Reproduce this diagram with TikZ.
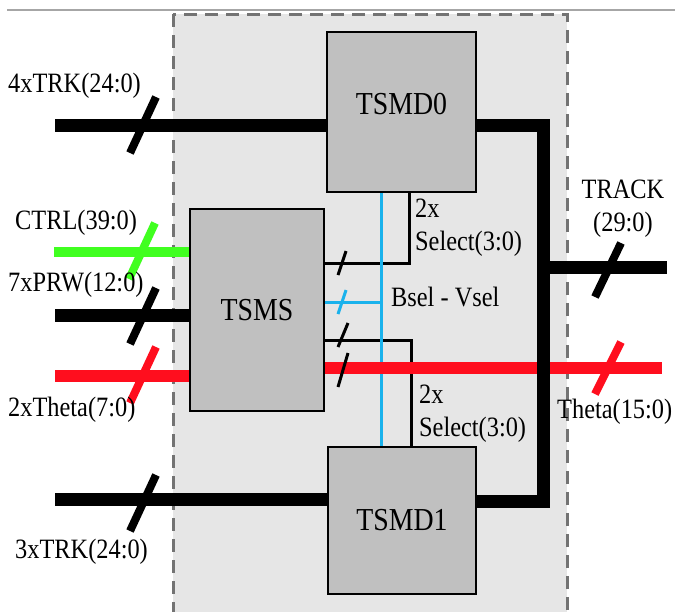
\documentclass[tikz,border=0pt]{standalone}
\usepackage{fontspec}
\setmainfont{Liberation Serif}
\newfontfamily\narrowserif[FakeStretch=0.87]{Liberation Serif}
\usetikzlibrary{positioning}

\definecolor{busgreen}{RGB}{64,255,32}
\definecolor{busred}{RGB}{255,14,30}
\definecolor{buscyan}{RGB}{26,178,236}
\definecolor{blockgray}{RGB}{192,192,192}
\definecolor{areagray}{RGB}{230,230,230}

\newcommand{\labelsize}{\narrowserif\fontsize{28}{33}\selectfont}
\newcommand{\blocksize}{\narrowserif\fontsize{32}{36}\selectfont}

\begin{document}
\begin{tikzpicture}[
			x=1pt, y=-1pt,
			block/.style={
				rectangle,
				draw=black,
				line width=2.5pt,
				fill=blockgray,
				inner sep=0pt,
				font=\blocksize
			},
			lab/.style={
				inner sep=0pt,
				align=left,
				font=\labelsize
			},
			bus/.style={line width=13pt},
			wire/.style={line width=3pt},
			slash/.style={line width=8pt},
			tick/.style={line width=3pt}
			]
			\useasboundingbox (0,0) rectangle (675,611);
			\clip (0,0) rectangle (675,611);
			\fill[white] (0,0) rectangle (675,611);
			\draw[black!35, line width=1.5pt] (7,10) -- (675,10);
			\draw[fill=areagray, draw=black!55, line width=3pt, dash pattern=on 13pt off 8pt] (173,14) rectangle (567,640);
			
			% blocks
			\node[block, minimum width=149pt, minimum height=160pt, text depth=16pt] (tsmd0) at (401.5,112) {TSMD0};
			\node[block, minimum width=134pt, minimum height=202pt] (tsms) at (257,310) {TSMS};
			\node[block, minimum width=148pt, minimum height=147pt] (tsmd1) at (402,520.5) {TSMD1};
			
			% free ends
			\coordinate (trk0) at (55,125);
			\coordinate (ctrl) at (54,252);
			\coordinate (prw) at (55,315);
			\coordinate (thin) at (55,376);
			\coordinate (trk1) at (55,499);
			\coordinate (merge) at (543,501);
			\coordinate (track) at (667,267);
			\coordinate (thout) at (662,368);
			\coordinate (selA) at (409,263);
			\coordinate (selB) at (411,340);
			\coordinate (bsel) at (381,302);
			
			% inputs
			\draw[bus] (trk0) -- (trk0 -| tsmd0.west);
			\draw[slash] (143,125) ++(13,-28) -- ++(-26,56);
			\draw[bus, busgreen, line width=10pt] (ctrl) -- (ctrl -| tsms.west);
			\draw[slash, busgreen] (142,251) ++(13,-28) -- ++(-26,56);
			\draw[bus] (prw) -- (prw -| tsms.west);
			\draw[slash] (143,316) ++(13,-28) -- ++(-26,56);
			\draw[bus, busred, line width=12pt] (thin) -- (thin -| tsms.west);
			\draw[slash, busred] (143,375) ++(13,-28) -- ++(-26,56);
			\draw[bus] (trk1) -- (trk1 -| tsmd1.west);
			\draw[slash] (143,503) ++(13,-28) -- ++(-26,56);
			
			% select lines
			\draw[wire] (tsms.east |- selA) -| (tsmd0.south -| selA);
			\draw[tick] (342,263) ++(4,-12) -- ++(-8,24);
			\draw[wire] (tsms.east |- selB) -| (tsmd1.north -| selB);
			\draw[tick] (343,335) ++(5,-12) -- ++(-10,24);
			\draw[wire, buscyan] (tsmd0.south -| bsel) -- (tsmd1.north -| bsel);
			\draw[wire, buscyan] (tsms.east |- bsel) -- (bsel);
			\draw[tick, buscyan] (342,302) ++(4,-12) -- ++(-8,24);
			
			% outputs
			\draw[bus, busred, line width=12pt] (tsms.east |- thout) -- (thout);
			\draw[tick] (343,370) ++(5,-17) -- ++(-10,34);
			\draw[slash, busred] (608,368) ++(13,-26) -- ++(-26,52);
			\draw[bus] ([yshift=-13pt]tsmd0.east) -| (merge) -- (merge -| tsmd1.east);
			\draw[bus] (merge |- track) -- (track);
			\draw[slash] (608,270) ++(13,-27) -- ++(-26,54);
			
			% labels
			\node[lab, anchor=west] (trk0lab) at (8,86) {4xTRK(24:0)};
			\node[lab, anchor=west] (ctrllab) at (15,223) {CTRL(39:0)};
			\node[lab, anchor=west] (prwlab) at (8,285) {7xPRW(12:0)};
			\node[lab, anchor=west] (thinlab) at (8,410) {2xTheta(7:0)};
			\node[lab, anchor=west] (trk1lab) at (15,552) {3xTRK(24:0)};
			\node[lab, align=center] (tracklab) at (623,209) {TRACK\\(29:0)};
			\node[lab, anchor=west] (thoutlab) at (557,412) {Theta(15:0)};
			\node[lab, anchor=west] (selAlab) at (415,228) {2x\\Select(3:0)};
			\node[lab, anchor=west] (bsellab) at (391,297) {Bsel - Vsel};
			\node[lab, anchor=west] (selBlab) at (419,414) {2x\\Select(3:0)};
		\end{tikzpicture}
\end{document}
